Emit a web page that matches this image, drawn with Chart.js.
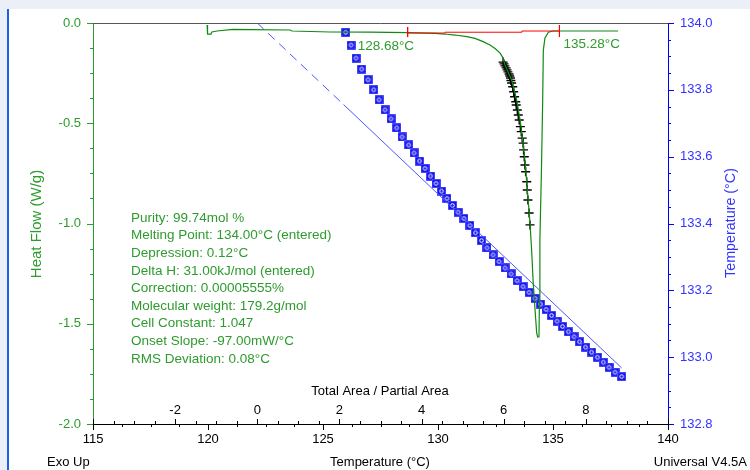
<!DOCTYPE html>
<html>
<head>
<meta charset="utf-8">
<script src="https://cdn.jsdelivr.net/npm/chart.js@4.4.1/dist/chart.umd.min.js"></script>
<style>
html,body{margin:0;padding:0;background:#EBF0F8;}
canvas{display:block;}
</style>
</head>
<body>
<canvas id="c" width="750" height="470"></canvas>
<script>
// ---- Heat flow curve (Temperature °C vs Heat Flow W/g)
const hfT = [119.96,119.98,120.13,120.17,120.39,121.09,121.83,123.57,123.65,125.30,127.04,128.70,129.87,130.30,130.74,131.26,131.61,131.96,132.26,132.48,132.70,132.83,132.91,133.20,133.42,133.57,133.68,133.78,133.86,133.93,134.00,134.07,134.14,134.22,134.29,134.33,134.39,134.41,134.43,134.50,134.55,134.58,134.65,134.80,135.00,137.83];
const hfW = [-0.010,-0.055,-0.055,-0.045,-0.040,-0.032,-0.033,-0.035,-0.040,-0.045,-0.046,-0.048,-0.052,-0.055,-0.060,-0.068,-0.077,-0.093,-0.110,-0.127,-0.150,-0.175,-0.209,-0.284,-0.384,-0.484,-0.584,-0.683,-0.798,-0.898,-0.998,-1.132,-1.297,-1.431,-1.546,-1.566,-1.566,-1.382,-1.082,-0.718,-0.399,-0.135,-0.075,-0.046,-0.040,-0.040];

// ---- Integration baseline (red)
const baseT = [128.68,130.3,130.3,133.65,133.65,135.28];
const baseW = [-0.050,-0.050,-0.046,-0.046,-0.040,-0.040];
const limitT = [128.68,135.28];
const limitTop = [-0.02,-0.01];
const limitBot = [-0.07,-0.07];
const limitLabels = ["128.68°C","135.28°C"];

// ---- Partial-area points on the heat flow curve (black crosses)
const crossT = [132.83,132.87,132.91,132.96,133.00,133.04,133.09,133.12,133.15,133.17,133.20,133.25,133.29,133.33,133.38,133.40,133.45,133.49,133.53,133.58,133.62,133.66,133.70,133.72,133.75,133.78,133.81,133.86,133.88,133.91,133.96,134.00];
const crossW = [-0.195,-0.204,-0.214,-0.224,-0.234,-0.244,-0.254,-0.264,-0.274,-0.287,-0.299,-0.318,-0.343,-0.368,-0.393,-0.409,-0.434,-0.459,-0.484,-0.517,-0.542,-0.574,-0.599,-0.633,-0.667,-0.708,-0.742,-0.792,-0.833,-0.883,-0.948,-1.007];

// ---- Sample temperature vs Total Area / Partial Area (blue squares)
const areaX = [2.153,2.282,2.404,2.543,2.696,2.835,2.964,3.110,3.256,3.395,3.524,3.687,3.816,3.950,4.084,4.218,4.352,4.486,4.619,4.753,4.887,5.033,5.179,5.313,5.460,5.593,5.740,5.886,6.032,6.178,6.324,6.470,6.616,6.762,6.896,7.030,7.164,7.298,7.432,7.573,7.712,7.846,7.992,8.138,8.279,8.425,8.564,8.710,8.873];
const areaT = [133.972,133.934,133.895,133.862,133.830,133.800,133.770,133.740,133.713,133.686,133.659,133.635,133.611,133.587,133.565,133.542,133.520,133.497,133.475,133.454,133.434,133.415,133.394,133.372,133.349,133.327,133.306,133.286,133.267,133.249,133.229,133.211,133.194,133.176,133.159,133.143,133.125,133.108,133.092,133.076,133.061,133.046,133.030,133.015,133.000,132.985,132.970,132.955,132.942];

// ---- Fit line (dashed extrapolation + solid part)
const fitDashA = [0.0,2.1];
const fitDashT = [134.000,133.756];
const fitA = [2.1,8.87];
const fitT = [133.756,132.968];

// ---- Axes
const tempMin = 115, tempMax = 140, tempStep = 5;
const hfMin = -2.0, hfMax = 0.0, hfStep = 0.5;
const sTMin = 132.8, sTMax = 134.0, sTStep = 0.2;
const areaMin = -4, areaMax = 10;
const areaTickLabels = [-2,0,2,4,6,8];

const infoLines = [
  "Purity: 99.74mol %",
  "Melting Point: 134.00°C (entered)",
  "Depression: 0.12°C",
  "Delta H: 31.00kJ/mol (entered)",
  "Correction: 0.00005555%",
  "Molecular weight: 179.2g/mol",
  "Cell Constant: 1.047",
  "Onset Slope: -97.00mW/°C",
  "RMS Deviation: 0.08°C"
];

const pts = (xs, ys) => xs.map((x, i) => ({x: x, y: ys[i]}));

const GREEN_TXT = '#2E9B2E';
const BLUE_TXT = '#3333FF';
const FONT = '"Liberation Sans", Arial, sans-serif';

// square marker with inner ring
const sq = document.createElement('canvas');
sq.width = 9; sq.height = 9;
(function(){
  const g = sq.getContext('2d');
  g.fillStyle = '#7A7AFF';
  g.fillRect(0,0,9,9);
  g.fillStyle = '#1414F0';
  g.fillRect(0.5,0.5,8,8);
  g.strokeStyle = '#FFFFFF';
  g.lineWidth = 1;
  g.beginPath(); g.arc(4.5,4.5,1.8,0,Math.PI*2); g.stroke();
})();

Chart.defaults.font.family = FONT;

const decor = {
  id: 'decor',
  beforeDraw(chart) {
    const c = chart.ctx;
    c.save();
    c.fillStyle = '#EBF0F8';
    c.fillRect(0,0,750,470);
    c.fillStyle = '#FFFFFF';
    c.fillRect(9,9,741,461);
    c.fillStyle = '#1F5FE6';
    c.fillRect(7,9,2,461);
    c.restore();
  },
  afterDraw(chart) {
    const c = chart.ctx;
    const a = chart.chartArea;
    const sx = chart.scales.x, sy = chart.scales.y, sy2 = chart.scales.y2, sx2 = chart.scales.x2;
    c.save();
    // top frame line
    c.strokeStyle = '#555555'; c.lineWidth = 1;
    c.beginPath(); c.moveTo(a.left, a.top + 0.5); c.lineTo(a.right, a.top + 0.5); c.stroke();

    // left ticks
    c.strokeStyle = GREEN_TXT;
    for (let i = 0; i <= 16; i++) {
      const v = hfMin + i * 0.125;
      const y = Math.round(sy.getPixelForValue(v)) + 0.5;
      const len = (i % 4 === 0) ? 6 : 3;
      c.beginPath(); c.moveTo(a.left, y); c.lineTo(a.left - len, y); c.stroke();
    }
    // right ticks
    c.strokeStyle = '#0000FF';
    for (let i = 0; i <= 24; i++) {
      const v = sTMin + i * 0.05;
      const y = Math.round(sy2.getPixelForValue(v)) + 0.5;
      const len = (i % 4 === 0) ? 6 : 3;
      c.beginPath(); c.moveTo(a.right, y); c.lineTo(a.right + len, y); c.stroke();
    }
    // bottom temperature ticks (down)
    c.strokeStyle = '#000000';
    for (let i = 0; i <= 20; i++) {
      const v = tempMin + i * 1.25;
      const x = Math.round(sx.getPixelForValue(v)) + 0.5;
      const len = (i % 4 === 0) ? 6 : 3;
      c.beginPath(); c.moveTo(x, a.bottom); c.lineTo(x, a.bottom + len); c.stroke();
    }
    // area axis ticks (up)
    for (let i = 0; i <= 28; i++) {
      const v = areaMin + i * 0.5;
      const x = Math.round(sx2.getPixelForValue(v)) + 0.5;
      const len = (i % 4 === 0) ? 5 : 3;
      c.beginPath(); c.moveTo(x, a.bottom); c.lineTo(x, a.bottom - len); c.stroke();
    }
    // area axis labels
    c.fillStyle = '#000000';
    c.font = '13px ' + FONT;
    c.textAlign = 'center'; c.textBaseline = 'middle';
    areaTickLabels.forEach(v => {
      c.fillText(String(v), sx2.getPixelForValue(v), a.bottom - 14);
    });
    c.fillText('Total Area / Partial Area', 380, 391);

    // bottom titles
    c.font = '13px ' + FONT;
    c.fillText('Temperature (°C)', 380, 462);
    c.textAlign = 'left';
    c.fillText('Exo Up', 47, 462);
    c.textAlign = 'right';
    c.fillText('Universal V4.5A', 747, 462);

    // left title
    c.save();
    c.translate(37, 224);
    c.rotate(-Math.PI / 2);
    c.textAlign = 'center';
    c.fillStyle = GREEN_TXT;
    c.font = '15px ' + FONT;
    c.fillText('Heat Flow (W/g)', 0, 0);
    c.restore();
    // right title
    c.save();
    c.translate(731, 223);
    c.rotate(-Math.PI / 2);
    c.textAlign = 'center';
    c.fillStyle = BLUE_TXT;
    c.font = '14.3px ' + FONT;
    c.fillText('Temperature (°C)', 0, 0);
    c.restore();

    // limit labels
    c.fillStyle = GREEN_TXT;
    c.font = '13.5px ' + FONT;
    c.textAlign = 'left';
    c.fillText(limitLabels[0], sx.getPixelForValue(limitT[0]) - 50, 46);
    c.fillText(limitLabels[1], sx.getPixelForValue(limitT[1]) + 4, 44.5);

    // info box
    c.font = '13.5px ' + FONT;
    infoLines.forEach((t, i) => {
      c.fillText(t, 131, 218 + i * 17.6);
    });
    c.restore();
  }
};

new Chart(document.getElementById('c'), {
  type: 'scatter',
  data: {
    datasets: [
      { data: pts(baseT, baseW), xAxisID: 'x', yAxisID: 'y', showLine: true, borderColor: '#FF0000', borderWidth: 1, pointRadius: 0 },
      { data: pts([limitT[0], limitT[0]], [limitTop[0], limitBot[0]]), xAxisID: 'x', yAxisID: 'y', showLine: true, borderColor: '#FF0000', borderWidth: 1, pointRadius: 0 },
      { data: pts([limitT[1], limitT[1]], [limitTop[1], limitBot[1]]), xAxisID: 'x', yAxisID: 'y', showLine: true, borderColor: '#FF0000', borderWidth: 1, pointRadius: 0 },
      { data: pts(hfT, hfW), xAxisID: 'x', yAxisID: 'y', showLine: true, borderColor: '#108A10', borderWidth: 1.2, pointRadius: 0 },
      { data: pts(crossT, crossW), xAxisID: 'x', yAxisID: 'y', showLine: false, pointStyle: 'cross', pointRadius: 4.5, borderColor: '#000000', borderWidth: 1.4 },
      { data: pts(fitDashA, fitDashT), xAxisID: 'x2', yAxisID: 'y2', showLine: true, borderColor: '#4A5AFF', borderWidth: 1, borderDash: [9,6], pointRadius: 0 },
      { data: pts(fitA, fitT), xAxisID: 'x2', yAxisID: 'y2', showLine: true, borderColor: '#4A5AFF', borderWidth: 1, pointRadius: 0 },
      { data: pts(areaX, areaT), xAxisID: 'x2', yAxisID: 'y2', showLine: false, pointStyle: sq, pointRadius: 4.5 }
    ]
  },
  options: {
    responsive: false,
    animation: false,
    devicePixelRatio: 1,
    layout: { padding: { top: 23, left: 0, right: 0, bottom: 0 } },
    plugins: { legend: { display: false }, tooltip: { enabled: false } },
    events: [],
    scales: {
      x: {
        type: 'linear', position: 'bottom', min: tempMin, max: tempMax,
        afterFit: s => { s.height = 46; },
        ticks: { stepSize: tempStep, color: '#000000', font: { size: 13 }, padding: 8, maxRotation: 0 },
        grid: { display: false, drawTicks: false },
        border: { display: true, color: '#000000', width: 1 }
      },
      x2: {
        type: 'linear', display: false, min: areaMin, max: areaMax
      },
      y: {
        type: 'linear', position: 'left', min: hfMin, max: hfMax,
        afterFit: s => { s.width = 93; },
        ticks: { stepSize: hfStep, color: GREEN_TXT, font: { size: 13 }, padding: 12, callback: v => Number(v).toFixed(1) },
        grid: { display: false, drawTicks: false },
        border: { display: true, color: GREEN_TXT, width: 1 }
      },
      y2: {
        type: 'linear', position: 'right', min: sTMin, max: sTMax,
        afterFit: s => { s.width = 82; },
        ticks: { stepSize: sTStep, color: BLUE_TXT, font: { size: 13 }, padding: 12, callback: v => Number(v).toFixed(1) },
        grid: { display: false, drawTicks: false },
        border: { display: true, color: '#0000FF', width: 1 }
      }
    }
  },
  plugins: [decor]
});
</script>
</body>
</html>
